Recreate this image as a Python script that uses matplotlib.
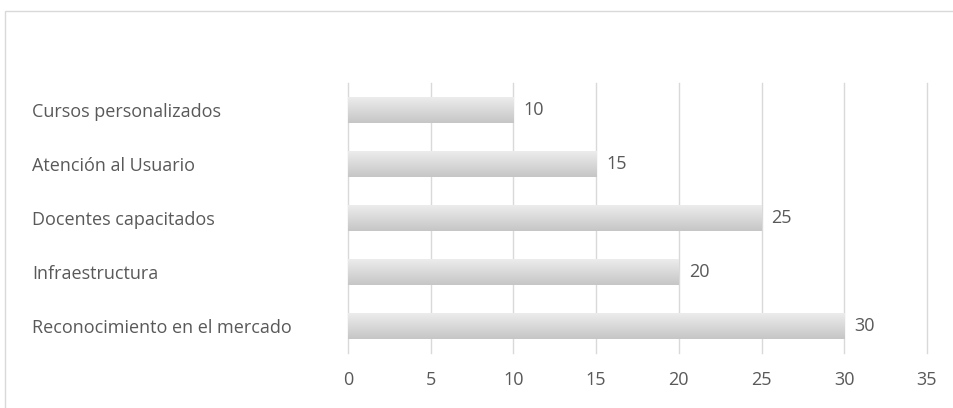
import matplotlib
matplotlib.use('Agg')
import matplotlib.pyplot as plt
import numpy as np
from matplotlib.patches import Rectangle

categorias = ['Cursos personalizados', 'Atención al Usuario', 'Docentes capacitados',
              'Infraestructura', 'Reconocimiento en el mercado']
valores = [10, 15, 25, 20, 30]
ticks_x = [0, 5, 10, 15, 20, 25, 30, 35]

plt.rcParams['font.family'] = ['Open Sans', 'DejaVu Sans']
texto = '#595959'
tam = 13

fig = plt.figure(figsize=(9.54, 4.08), dpi=100)
ax = fig.add_axes([348 / 954, 1 - 353 / 408, (927 - 348) / 954, (353 - 83) / 408])

# marco del grafico
fig.patches.append(Rectangle((5 / 954, -0.1), 1.1, 1 - 11 / 408 + 0.1,
                             transform=fig.transFigure, fill=False,
                             edgecolor='#d9d9d9', linewidth=1.0))

y = np.arange(len(categorias))
barras = ax.barh(y, valores, height=0.48, color='#d9d9d9', zorder=2)

# degradado vertical en cada barra (claro arriba, oscuro abajo)
grad = np.linspace(0, 1, 64).reshape(-1, 1)
cmap = matplotlib.colors.LinearSegmentedColormap.from_list('g', ['#ececec', '#c6c6c6'])
for b in barras:
    x0, y0, w, h = b.get_x(), b.get_y(), b.get_width(), b.get_height()
    im = ax.imshow(grad, extent=[x0, x0 + w, y0, y0 + h], aspect='auto',
                   cmap=cmap, origin='lower', zorder=3)
    im.set_clip_path(b)

for yi, v in zip(y, valores):
    ax.text(v + 0.6, yi, str(v), va='center', ha='left', fontsize=tam, color=texto)

ax.set_xlim(0, 35)
ax.set_ylim(len(categorias) - 0.5, -0.5)
ax.set_xticks(ticks_x)
ax.set_yticks(y)
ax.set_yticklabels(categorias, ha='left')
ax.xaxis.grid(True, color='#d9d9d9', linewidth=1.0, zorder=0)
for gl in ax.get_xgridlines():
    gl.set_clip_on(False)
ax.set_axisbelow(True)
for s in ax.spines.values():
    s.set_visible(False)
ax.tick_params(axis='both', length=0, labelsize=tam, labelcolor=texto)
ax.tick_params(axis='x', pad=13)
ax.tick_params(axis='y', pad=(348 - 32) * 72 / 100)

fig.savefig('out.png', dpi=100)
